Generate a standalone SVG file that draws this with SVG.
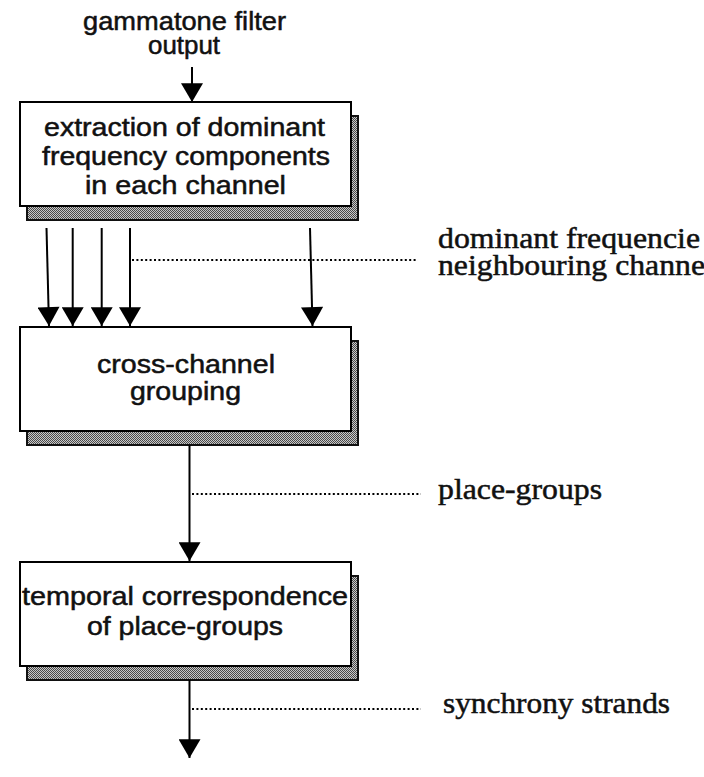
<svg xmlns="http://www.w3.org/2000/svg" width="704" height="777" viewBox="0 0 704 777">
<style>
.box{fill:#fff;stroke:#000;stroke-width:2}
.shadow{fill:url(#hatch);stroke:#111;stroke-width:2}
.sans{font-family:"Liberation Sans",Arial,Helvetica,sans-serif;font-size:25px;fill:#111;stroke:#111;stroke-width:0.5}
.serif{font-family:"Liberation Serif","Times New Roman",serif;font-size:29px;fill:#111;stroke:#111;stroke-width:0.5}
.arrow{stroke:#000;stroke-width:2;fill:none;marker-end:url(#head)}
.dot{stroke:#000;stroke-width:2;stroke-dasharray:2 2.4;fill:none}
</style>
<defs>
<pattern id="hatch" width="2" height="2" patternUnits="userSpaceOnUse">
<rect width="2" height="2" fill="#c8c8c8"/>
<rect width="1" height="1" fill="#4a4a4a"/>
<rect x="1" y="1" width="1" height="1" fill="#4a4a4a"/>
</pattern>
<marker id="head" markerUnits="userSpaceOnUse" markerWidth="20" markerHeight="22" refX="18" refY="10.5" orient="auto" viewBox="0 0 18 21">
<path d="M0,0 L18,10.5 L0,21 Z" fill="#000"/>
</marker>
</defs>
<rect width="704" height="777" fill="#fff"/>

<g id="input-label">
<text class="sans" x="83" y="30" textLength="203" lengthAdjust="spacingAndGlyphs">gammatone filter</text>
<text class="sans" x="148" y="54" textLength="72" lengthAdjust="spacingAndGlyphs">output</text>
</g>

<g id="extraction">
<rect class="shadow" x="27" y="116" width="331" height="104"/>
<rect class="box" x="20" y="102" width="331" height="104"/>
<text class="sans" x="44" y="136" textLength="281" lengthAdjust="spacingAndGlyphs">extraction of dominant</text>
<text class="sans" x="42" y="165" textLength="288" lengthAdjust="spacingAndGlyphs">frequency components</text>
<text class="sans" x="85" y="194" textLength="201" lengthAdjust="spacingAndGlyphs">in each channel</text>
</g>

<g id="grouping">
<rect class="shadow" x="27" y="341" width="331" height="104"/>
<rect class="box" x="20" y="327" width="331" height="104"/>
<text class="sans" x="97" y="373" textLength="178" lengthAdjust="spacingAndGlyphs">cross-channel</text>
<text class="sans" x="130" y="400" textLength="111" lengthAdjust="spacingAndGlyphs">grouping</text>
</g>

<g id="temporal">
<rect class="shadow" x="27" y="576" width="331" height="104"/>
<rect class="box" x="20" y="562" width="331" height="104"/>
<text class="sans" x="22" y="605" textLength="326" lengthAdjust="spacingAndGlyphs">temporal correspondence</text>
<text class="sans" x="87" y="635" textLength="196" lengthAdjust="spacingAndGlyphs">of place-groups</text>
</g>

<g id="labels">
<text class="serif" x="438" y="248" textLength="262" lengthAdjust="spacingAndGlyphs">dominant frequencie</text>
<text class="serif" x="438" y="275" textLength="267" lengthAdjust="spacingAndGlyphs">neighbouring channe</text>
<text class="serif" x="438" y="499" textLength="164" lengthAdjust="spacingAndGlyphs">place-groups</text>
<text class="serif" x="443" y="713" textLength="227" lengthAdjust="spacingAndGlyphs">synchrony strands</text>
</g>

<g id="connectors">
<line class="arrow" x1="192" y1="67" x2="192" y2="102"/>
<line class="arrow" x1="46.5" y1="228" x2="49" y2="326"/>
<line class="arrow" x1="72.7" y1="228" x2="72.7" y2="326"/>
<line class="arrow" x1="101.7" y1="228" x2="101.7" y2="326"/>
<line class="arrow" x1="130" y1="228" x2="130" y2="326"/>
<line class="arrow" x1="310" y1="228" x2="312.5" y2="326"/>
<line class="arrow" x1="189.5" y1="445" x2="189.5" y2="561"/>
<line class="arrow" x1="189.5" y1="680" x2="189.5" y2="758"/>
<line class="dot" x1="132" y1="260" x2="418" y2="260"/>
<line class="dot" x1="192" y1="494" x2="421" y2="494"/>
<line class="dot" x1="192" y1="709" x2="421" y2="709"/>
</g>
</svg>
